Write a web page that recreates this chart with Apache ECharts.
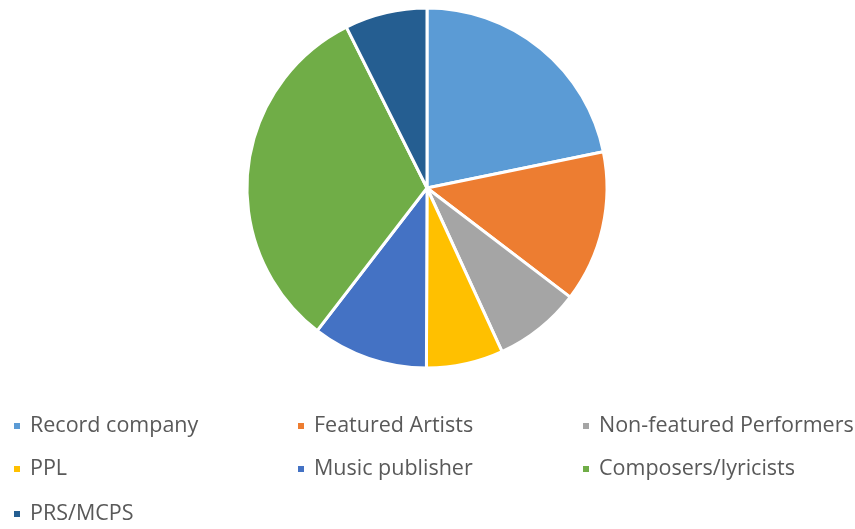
<!DOCTYPE html>
<html>
<head>
<meta charset="utf-8">
<script src="https://cdn.jsdelivr.net/npm/echarts@6/dist/echarts.min.js"></script>
<style>
  html, body { margin: 0; padding: 0; background: #fff; }
  #chart { width: 855px; height: 529px; }
</style>
</head>
<body>
<div id="chart"></div>
<script>
// Share of royalties by recipient (percent)
const categories = [
  'Record company', 'Featured Artists', 'Non-featured Performers',
  'PPL', 'Music publisher', 'Composers/lyricists', 'PRS/MCPS'
];
const shares = [21.8, 13.6, 7.8, 6.9, 10.4, 32.2, 7.4];
const palette = ['#5B9BD5', '#ED7D31', '#A5A5A5', '#FFC000', '#4472C4', '#70AD47', '#255E91'];

// legend grid: three columns, rows filled left to right
const legendColLeft = [7, 291, 576];
const legendRowTop = [410, 453, 498];

const chart = echarts.init(document.getElementById('chart'), null, { renderer: 'canvas' });

chart.setOption({
  animation: false,
  color: palette,
  legend: categories.map((name, i) => ({
    data: [name],
    left: legendColLeft[i % 3],
    top: legendRowTop[Math.floor(i / 3)],
    icon: 'rect',
    itemWidth: 8,
    itemHeight: 8,
    selectedMode: false,
    textStyle: {
      fontFamily: 'Open Sans',
      fontSize: 21.5,
      color: '#595959',
      padding: [0, 0, 0, 4]
    }
  })),
  series: [{
    type: 'pie',
    center: [427, 188],
    radius: [0, 180],
    startAngle: 90,
    clockwise: true,
    label: { show: false },
    labelLine: { show: false },
    itemStyle: { borderColor: '#ffffff', borderWidth: 3 },
    emphasis: { disabled: true },
    data: categories.map((name, i) => ({ name, value: shares[i] }))
  }]
});
</script>
</body>
</html>
